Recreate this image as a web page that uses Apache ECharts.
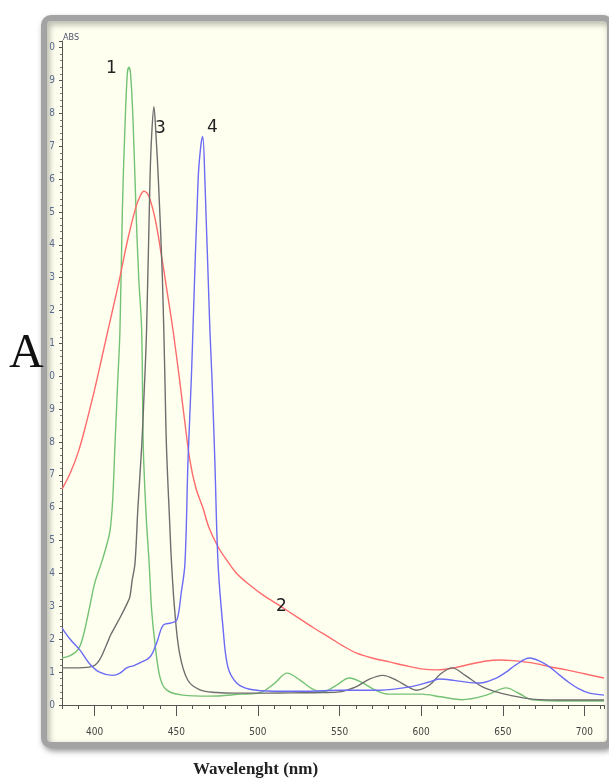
<!DOCTYPE html>
<html>
<head>
<meta charset="utf-8">
<title>ABS spectra</title>
<script src="https://cdn.jsdelivr.net/npm/echarts@6/dist/echarts.min.js"></script>
<style>
    html, body { margin: 0; padding: 0; background: #fff; }
    #main { width: 609px; height: 782px; }
</style>
</head>
<body>
<div id="main"></div>
<script>
// wavelengths (nm) and absorbance
var wl1 = [380, 385, 390, 393, 397, 400, 404, 407, 409.4, 411, 412.4, 414, 415.5, 417, 418.5, 420, 421, 422, 423.5, 425.3, 427, 428.8, 429.8, 431.5, 433.4, 434.9, 436.9, 440, 444, 454, 470, 490, 501, 510, 518, 526, 533, 540, 548, 556, 563, 572, 580, 600, 612, 625, 640, 652, 660, 668, 690, 712];
var abs1 = [0.143, 0.15, 0.17, 0.21, 0.30, 0.37, 0.43, 0.48, 0.53, 0.62, 0.785, 0.97, 1.14, 1.51, 1.75, 1.92, 1.94, 1.92, 1.78, 1.51, 1.30, 1.14, 0.785, 0.58, 0.43, 0.289, 0.189, 0.085, 0.046, 0.03, 0.027, 0.033, 0.037, 0.065, 0.097, 0.075, 0.05, 0.04, 0.06, 0.082, 0.07, 0.045, 0.033, 0.033, 0.025, 0.016, 0.03, 0.052, 0.035, 0.016, 0.012, 0.012];

var wl2 = [380, 385, 390, 395, 400, 405, 410, 415, 420, 425, 428, 430.2, 433, 437, 441, 444, 448, 452, 455, 458.3, 462, 466.3, 470, 475.7, 481, 487, 495, 503, 514, 523.6, 534, 544, 552, 560.5, 570, 580.7, 590, 600, 610, 620, 630, 640, 648, 656, 668, 680, 689, 700, 712];
var abs2 = [0.657, 0.705, 0.77, 0.86, 0.96, 1.07, 1.18, 1.29, 1.41, 1.51, 1.55, 1.563, 1.55, 1.48, 1.365, 1.27, 1.14, 0.99, 0.87, 0.746, 0.66, 0.60, 0.54, 0.48, 0.44, 0.40, 0.365, 0.335, 0.30, 0.269, 0.235, 0.205, 0.18, 0.158, 0.143, 0.131, 0.12, 0.11, 0.107, 0.113, 0.124, 0.134, 0.137, 0.135, 0.128, 0.115, 0.107, 0.095, 0.082];

var wl3 = [380, 390, 399, 403, 407, 410, 412.4, 416, 420, 421.6, 423, 424.7, 426.5, 428.8, 429.8, 431.8, 433.9, 435, 436.3, 437.5, 439, 441.5, 443, 444, 446, 447, 449, 452, 457, 464.5, 475, 485, 500, 520, 540, 550, 560, 568, 576.5, 585, 592, 597, 605, 612, 619, 627, 637.6, 646, 654, 668, 690, 712];
var abs3 = [0.113, 0.113, 0.118, 0.137, 0.18, 0.215, 0.237, 0.27, 0.31, 0.33, 0.38, 0.43, 0.60, 0.785, 0.89, 1.14, 1.60, 1.74, 1.82, 1.74, 1.60, 1.30, 1.0, 0.785, 0.55, 0.44, 0.29, 0.158, 0.076, 0.046, 0.038, 0.036, 0.036, 0.037, 0.038, 0.04, 0.055, 0.078, 0.09, 0.075, 0.055, 0.045, 0.06, 0.095, 0.113, 0.09, 0.055, 0.04, 0.03, 0.018, 0.015, 0.015];

var wl4 = [380, 385, 391, 397, 403, 411, 415.5, 419.6, 424, 427.7, 433.9, 438, 442, 447, 450.4, 453, 455.3, 457.2, 459.2, 460.2, 463.4, 465, 466.2, 467.5, 470.6, 471.9, 473.6, 475.6, 478.6, 481.6, 487, 495, 510, 530, 550, 575, 593, 605, 611, 620, 630, 636, 646, 652, 658, 666.4, 672, 678.6, 685, 691, 697, 703, 712];
var abs4 = [0.234, 0.20, 0.167, 0.125, 0.10, 0.09, 0.097, 0.113, 0.12, 0.128, 0.146, 0.189, 0.243, 0.25, 0.259, 0.34, 0.43, 0.746, 0.99, 1.14, 1.60, 1.70, 1.73, 1.60, 1.14, 0.99, 0.746, 0.43, 0.237, 0.116, 0.067, 0.048, 0.042, 0.042, 0.045, 0.045, 0.055, 0.07, 0.079, 0.075, 0.068, 0.067, 0.082, 0.1, 0.122, 0.143, 0.135, 0.116, 0.09, 0.067, 0.048, 0.036, 0.03];

var xTickLabels = [400, 450, 500, 550, 600, 650, 700];
var curveNames = ['1', '2', '3', '4'];
var curveColors = ['#74c274', '#ff6b6b', '#6e6e6e', '#6b6bf5'];

function pairs(xs, ys) {
    var out = [];
    for (var i = 0; i < xs.length; i++) {
        out.push([xs[i], ys[i]]);
    }
    return out;
}

var chart = echarts.init(document.getElementById('main'));

var allData = [pairs(wl1, abs1), pairs(wl2, abs2), pairs(wl3, abs3), pairs(wl4, abs4)];
var series = [];
for (var s = 0; s < allData.length; s++) {
    series.push({
        name: curveNames[s],
        type: 'line',
        data: allData[s],
        showSymbol: false,
        smooth: 0.35,
        lineStyle: { color: curveColors[s], width: 1.4 },
        z: 5
    });
}

var labelFont = "'Liberation Sans Narrow', 'DejaVu Sans Condensed', sans-serif";

var option = {
    animation: false,
    backgroundColor: '#ffffff',
    grid: { left: 62, right: 5, top: 41, bottom: 77 },
    xAxis: [{
        type: 'value',
        min: 380,
        max: 712,
        interval: 10,
        axisLine: { lineStyle: { color: '#555', width: 1 } },
        axisTick: { length: 4, lineStyle: { color: '#555' } },
        axisLabel: { show: false },
        splitLine: { show: false }
    }, {
        type: 'value',
        position: 'bottom',
        min: 380,
        max: 712,
        axisLine: { show: false },
        axisTick: { length: 11, customValues: xTickLabels, lineStyle: { color: '#555' } },
        axisLabel: {
            customValues: xTickLabels,
            margin: 22,
            color: '#444',
            fontSize: 10,
            fontFamily: labelFont
        },
        splitLine: { show: false }
    }],
    yAxis: {
        type: 'value',
        min: 0,
        max: 2.02,
        interval: 0.1,
        axisLine: { show: true, lineStyle: { color: '#555', width: 1 } },
        axisTick: { show: true, length: 3, lineStyle: { color: '#555' } },
        minorTick: { show: true, splitNumber: 5, length: 2, lineStyle: { color: '#777' } },
        axisLabel: {
            margin: 7,
            color: '#5a6a8c',
            fontSize: 10,
            fontFamily: labelFont,
            showMaxLabel: false,
            formatter: function (v) {
                var t = Math.round(v * 10);
                if (Math.abs(v * 10 - t) > 0.001) return '';
                return String(t % 10);
            }
        },
        splitLine: { show: false }
    },
    graphic: [{
        type: 'rect',
        z: -10,
        shape: { x: 44, y: 18, width: 566, height: 727, r: 7 },
        style: {
            fill: '#fffff0',
            stroke: '#a3a3a3',
            lineWidth: 6,
            shadowBlur: 6,
            shadowOffsetX: 2,
            shadowOffsetY: 3,
            shadowColor: 'rgba(0,0,0,0.35)'
        }
    }, {
        type: 'text', z: 100, left: 63, top: 33,
        style: { text: 'ABS', fontSize: 9, fontFamily: labelFont, fill: '#4a5068' }
    }, {
        type: 'text', z: 100, left: 9, top: 330,
        style: { text: 'A', fontSize: 48, fontFamily: "'Liberation Serif', serif", fill: '#111' }
    }, {
        type: 'text', z: 100, left: 193, top: 761,
        style: { text: 'Wavelenght (nm)', fontSize: 17, fontWeight: 'bold', fontFamily: "'Liberation Serif', serif", fill: '#222' }
    }, {
        type: 'text', z: 100, left: 106, top: 60,
        style: { text: '1', fontSize: 17, fontFamily: "'DejaVu Sans', sans-serif", fill: '#222' }
    }, {
        type: 'text', z: 100, left: 155, top: 120,
        style: { text: '3', fontSize: 17, fontFamily: "'DejaVu Sans', sans-serif", fill: '#222' }
    }, {
        type: 'text', z: 100, left: 207, top: 119,
        style: { text: '4', fontSize: 17, fontFamily: "'DejaVu Sans', sans-serif", fill: '#222' }
    }, {
        type: 'text', z: 100, left: 276, top: 598,
        style: { text: '2', fontSize: 17, fontFamily: "'DejaVu Sans', sans-serif", fill: '#222' }
    }],
    series: series
};

chart.setOption(option);
</script>
</body>
</html>
